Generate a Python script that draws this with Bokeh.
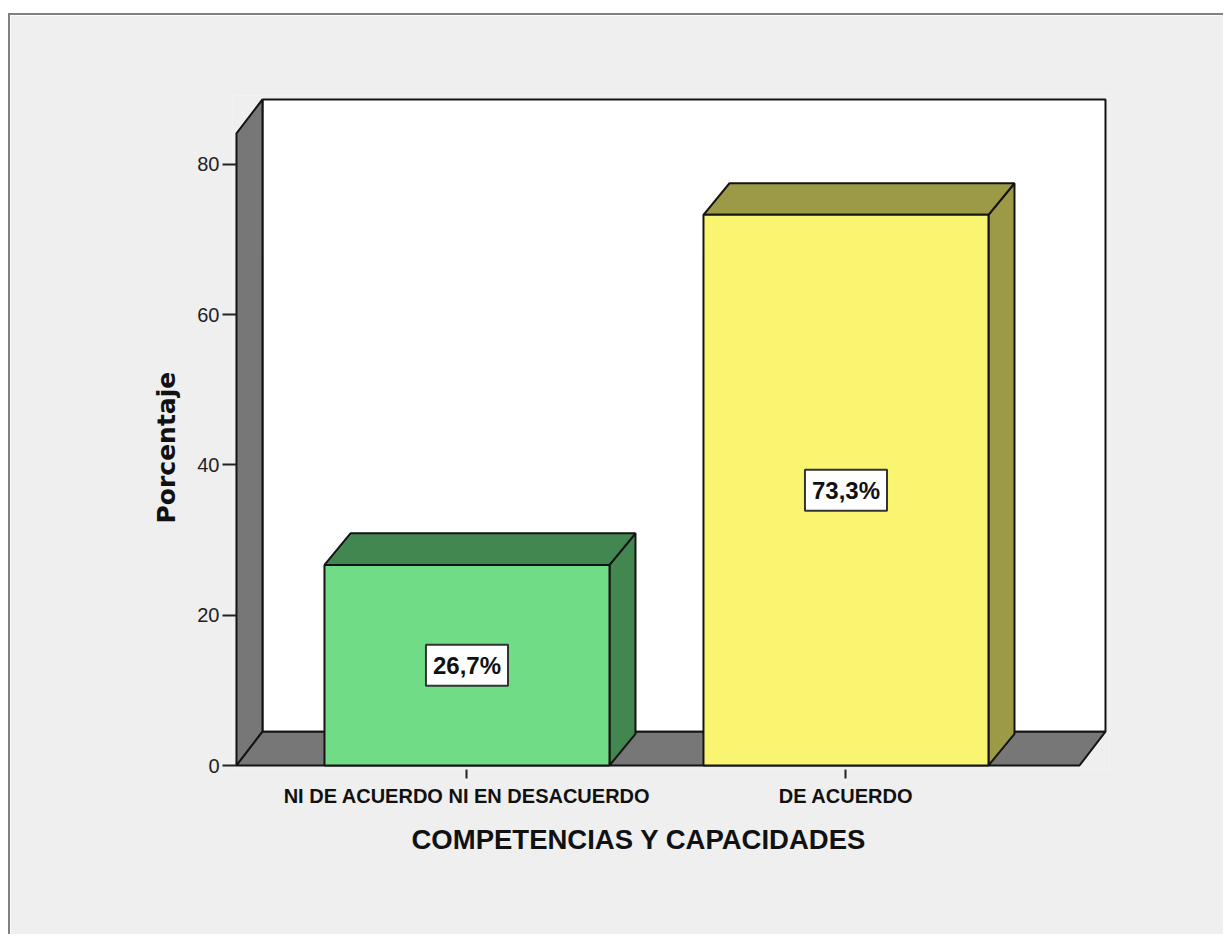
import numpy as np
from bokeh.plotting import figure
from bokeh.models import Range1d, FixedTicker, Label, ColumnDataSource, Title
from bokeh.embed import file_html
from bokeh.resources import INLINE

# ---- data ----
categories = ["NI DE ACUERDO NI EN DESACUERDO", "DE ACUERDO"]
percentages = [26.7, 73.3]
y_ticks = [0, 20, 40, 60, 80]
front_colors = ["#70dc86", "#f9f571"]
shade_colors = ["#438750", "#9c9a46"]
x_title = "COMPETENCIAS Y CAPACIDADES"
y_title = "Porcentaje"

# ---- geometry (data units) ----
positions = [1 + i for i in range(len(categories))]
BAR_W = 0.752
DX = 0.0686      # depth offset in x
DYB = 4.2        # bar depth offset in y
DYW = 4.5        # wall depth offset in y
X0, X1 = 0.3918, 2.6847
Y_TOP = 88.65
OUTLINE = "#141414"
BG = "#efefef"

xr = Range1d(0.3813, 2.6953)
yr = Range1d(-0.532, 89.18)
p = figure(width=1215, height=921, x_range=xr, y_range=yr,
           output_backend="svg", toolbar_location=None,
           min_border_left=222, min_border_right=116,
           min_border_top=80, min_border_bottom=167,
           background_fill_color=BG, border_fill_color=BG,
           outline_line_color=None, margin=(13, 0, 0, 8),
           styles={"border-top": "2px solid #808080", "border-left": "2px solid #808080"})
p.grid.visible = False

# panel background (same grey as the surround)
p.quad(left=[xr.start], right=[xr.end], bottom=[yr.start], top=[yr.end],
       fill_color=BG, line_color=None)
# back wall
p.quad(left=[X0 + DX], right=[X1], bottom=[DYW], top=[Y_TOP],
       fill_color="white", line_color=OUTLINE, line_width=2)
# left wall
p.patch([X0, X0 + DX, X0 + DX, X0], [0, DYW, Y_TOP, Y_TOP - DYW],
        fill_color="#777777", line_color=OUTLINE, line_width=2)
# floor
p.patch([X0, X1 - DX, X1, X0 + DX], [0, 0, DYW, DYW],
        fill_color="#777777", line_color=OUTLINE, line_width=2)

# bars
hw = BAR_W / 2
side_xs, side_ys, top_xs, top_ys = [], [], [], []
for cx, v in zip(positions, percentages):
    side_xs.append([cx + hw, cx + hw + DX, cx + hw + DX, cx + hw])
    side_ys.append([0, DYB, v + DYB, v])
    top_xs.append([cx - hw, cx + hw, cx + hw + DX, cx - hw + DX])
    top_ys.append([v, v, v + DYB, v + DYB])

p.patches(xs="xs", ys="ys", fill_color="c", line_color=OUTLINE, line_width=2,
          source=ColumnDataSource(dict(xs=side_xs, ys=side_ys, c=shade_colors)))
p.patches(xs="xs", ys="ys", fill_color="c", line_color=OUTLINE, line_width=2,
          source=ColumnDataSource(dict(xs=top_xs, ys=top_ys, c=shade_colors)))
p.quad(left=[c - hw for c in positions], right=[c + hw for c in positions],
       bottom=[0] * len(positions), top=percentages,
       fill_color=front_colors, line_color=OUTLINE, line_width=2)

# value labels
for cx, v in zip(positions, percentages):
    txt = f"{v:.1f}".replace(".", ",") + "%"
    p.add_layout(Label(x=cx, y=v / 2, text=txt, text_align="center", text_baseline="middle",
                       text_font="Liberation Sans", text_font_style="bold",
                       text_font_size="24px", text_color="#111111",
                       background_fill_color="white", border_line_color="#333333",
                       border_line_width=2, padding=7))

# axes
p.xaxis.ticker = FixedTicker(ticks=positions)
p.xaxis.major_label_overrides = {pos: cat for pos, cat in zip(positions, categories)}
p.xaxis.axis_line_color = None
p.xaxis.major_tick_out = 9
p.xaxis.major_tick_in = 0
p.xaxis.major_tick_line_width = 2
p.xaxis.major_tick_line_color = "#222222"
p.xaxis.minor_tick_line_color = None
p.xaxis.major_label_text_font = "Liberation Sans"
p.xaxis.major_label_text_font_style = "bold"
p.xaxis.major_label_text_font_size = "20px"
p.xaxis.major_label_text_color = "#111111"
p.xaxis.major_label_standoff = 6

p.yaxis.ticker = FixedTicker(ticks=y_ticks)
p.yaxis.axis_line_color = None
p.yaxis.major_tick_out = 10
p.yaxis.major_tick_in = 4
p.yaxis.major_tick_line_width = 2
p.yaxis.major_tick_line_color = "#222222"
p.yaxis.minor_tick_line_color = None
p.yaxis.major_label_text_font = "Liberation Sans"
p.yaxis.major_label_text_font_size = "20px"
p.yaxis.major_label_text_color = "#222222"
p.yaxis.major_label_standoff = 3

# axis titles (as side titles so they render outside the frame)
p.add_layout(Title(text=x_title, align="left", offset=179, standoff=24,
                   text_font="Liberation Sans", text_font_style="bold",
                   text_font_size="27.5px", text_color="#111111"), "below")
p.add_layout(Title(text=y_title, align="left", offset=246, standoff=28,
                   text_font="DejaVu Sans", text_font_style="bold",
                   text_font_size="25px", text_color="#111111"), "left")

open("out.html", "w").write(file_html(p, INLINE))
